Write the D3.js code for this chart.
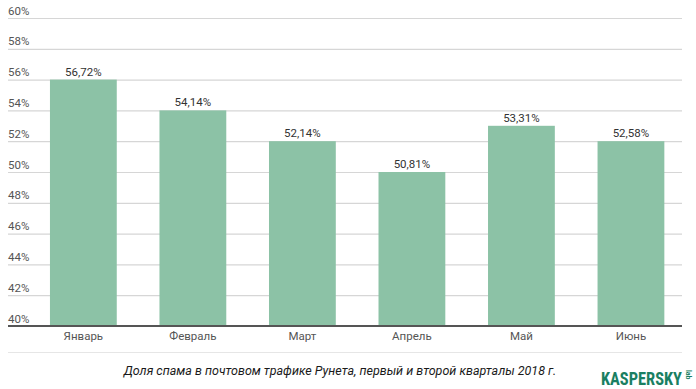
<!DOCTYPE html>
<html><head><meta charset="utf-8">
<script src="https://cdn.jsdelivr.net/npm/d3@7"></script>
<style>body{margin:0;background:#fff}svg{display:block}</style>
</head><body>
<svg id="c" width="696" height="389"></svg>
<script>
const categories = ["Январь","Февраль","Март","Апрель","Май","Июнь"];
const valueLabels = ["56,72%","54,14%","52,14%","50,81%","53,31%","52,58%"];
// bar heights as drawn in the picture
const barValues = [56, 54, 52, 50, 53, 52];
const yTicks = [40,42,44,46,48,50,52,54,56,58,60];
const title = "Доля спама в почтовом трафике Рунета, первый и второй кварталы 2018 г.";

const svg = d3.select("#c");
const font = "Roboto, 'Noto Sans', sans-serif";
const y = d3.scaleLinear().domain([40,60]).range([326,18]);
const x = d3.scaleBand().domain(categories).range([28.6,685.7]).paddingInner(0.39).paddingOuter(0.195);

// grid
const yAxis = d3.axisLeft(y).tickValues(yTicks).tickSize(0).tickFormat(d=>d+"%");
const gy = svg.append("g").call(yAxis);
gy.select(".domain").remove();
gy.selectAll("text").attr("x",8).attr("dy",-4).attr("text-anchor","start")
  .attr("fill","#555").style("font-family",font).style("font-size","11.5px");
gy.selectAll(".tick").append("line").attr("x1",8).attr("x2",682).attr("stroke","#d6d6d6").attr("stroke-width",1.2);

// bars
svg.selectAll("rect.bar").data(categories).join("rect").attr("class","bar")
  .attr("x",d=>x(d)).attr("width",x.bandwidth())
  .attr("y",(d,i)=>y(barValues[i])).attr("height",(d,i)=>y(40)-y(barValues[i]))
  .attr("fill","#8cc2a6");

svg.selectAll("text.val").data(categories).join("text").attr("class","val")
  .attr("x",d=>x(d)+x.bandwidth()/2).attr("y",(d,i)=>y(barValues[i])-4)
  .attr("text-anchor","middle").attr("fill","#333")
  .style("font-family",font).style("font-size","11.5px").text((d,i)=>valueLabels[i]);

// baseline + x axis
const xAxis = d3.axisBottom(x).tickSize(0);
const gx = svg.append("g").attr("transform","translate(0,326)").call(xAxis);
gx.select(".domain").remove();
gx.selectAll("text").attr("dy",14).attr("y",0).attr("fill","#555")
  .style("font-family",font).style("font-size","11.5px");
svg.append("line").attr("x1",8).attr("x2",682).attr("y1",y(40)).attr("y2",y(40)).attr("stroke","#555").attr("stroke-width",2);

// separator
svg.append("line").attr("x1",8).attr("x2",682).attr("y1",352.5).attr("y2",352.5).attr("stroke","#e6e6e6").attr("stroke-width",1);

// title
svg.append("text").attr("x",340).attr("y",375).attr("text-anchor","middle")
  .attr("fill","#1a1a1a").style("font-family",font).style("font-size","12.5px").style("font-style","italic")
  .text(title);

// logo
svg.append("text").attr("x",601).attr("y",385).attr("fill","#1a7f62")
  .style("font-family","'Roboto Condensed', 'Liberation Sans Narrow', Roboto, sans-serif").style("font-weight","bold")
  .style("font-size","18px").attr("textLength",81).attr("lengthAdjust","spacingAndGlyphs").text("KASPERSKY");
svg.append("text").attr("transform","translate(686,370) rotate(90)").attr("fill","#1a7f62")
  .style("font-family",font).style("font-size","7px").style("font-weight","bold").text("lab");
</script>
</body></html>
